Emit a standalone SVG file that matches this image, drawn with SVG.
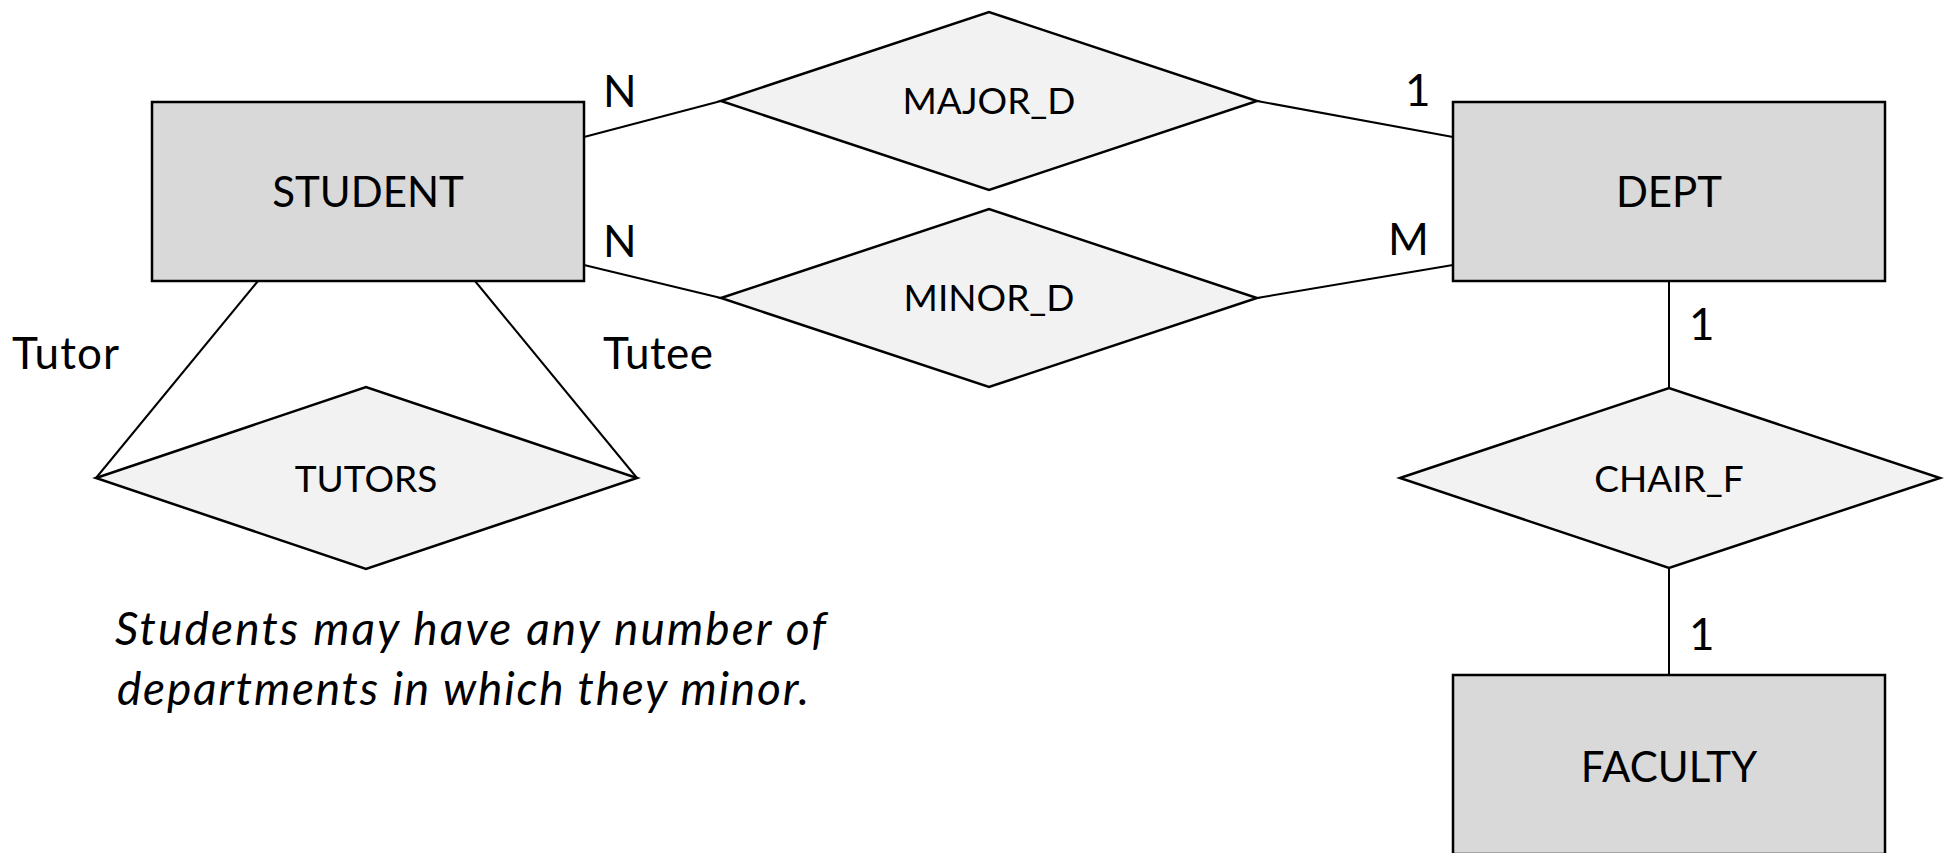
<svg xmlns="http://www.w3.org/2000/svg" width="1944" height="853" viewBox="0 0 1944 853">
<style>
.ent{fill:#D9D9D9;stroke:#000;stroke-width:2.5}
.rel{fill:#F2F2F2;stroke:#000;stroke-width:2.5}
.con{stroke:#000;stroke-width:2;fill:none}
.t{font-family:Lato,"Open Sans",sans-serif;fill:#000}
.en{font-size:42px;text-anchor:middle}
.rn{font-size:37px;text-anchor:middle}
.lb{font-size:44px}
.note{font-size:46px;font-style:italic}
</style>
<rect width="1944" height="853" fill="#fff"/>
<g id="connectors">
<line class="con" x1="584" y1="137" x2="721" y2="101"/>
<line class="con" x1="584" y1="265" x2="721" y2="298"/>
<line class="con" x1="1257" y1="101" x2="1453" y2="137"/>
<line class="con" x1="1257" y1="298" x2="1453" y2="265"/>
<line class="con" x1="1669" y1="281" x2="1669" y2="388"/>
<line class="con" x1="1669" y1="568" x2="1669" y2="675"/>
<line class="con" x1="258" y1="281" x2="96" y2="478"/>
<line class="con" x1="475" y1="281" x2="637" y2="478"/>
</g>
<g id="student">
<rect class="ent" x="152" y="102" width="432" height="179"/>
<text class="t en" x="368" y="207">STUDENT</text>
</g>
<g id="dept">
<rect class="ent" x="1453" y="102" width="432" height="179"/>
<text class="t en" x="1669" y="207">DEPT</text>
</g>
<g id="faculty">
<rect class="ent" x="1453" y="675" width="432" height="179"/>
<text class="t en" x="1669" y="782">FACULTY</text>
</g>
<g id="major_d">
<polygon class="rel" points="721,101 989,12 1257,101 989,190"/>
<text class="t rn" x="989" y="114">MAJOR_D</text>
</g>
<g id="minor_d">
<polygon class="rel" points="721,298 989,209 1257,298 989,387"/>
<text class="t rn" x="989" y="311">MINOR_D</text>
</g>
<g id="tutors">
<polygon class="rel" points="96,478 366,387 637,478 366,569"/>
<text class="t rn" x="366" y="492">TUTORS</text>
</g>
<g id="chair_f">
<polygon class="rel" points="1400,478 1669,388 1940,478 1669,568"/>
<text class="t rn" x="1669" y="492">CHAIR_F</text>
</g>
<g id="labels">
<text class="t lb" x="603" y="107">N</text>
<text class="t lb" x="603" y="257">N</text>
<text class="t lb" x="1405" y="106">1</text>
<text class="t lb" x="1388" y="255">M</text>
<text class="t lb" x="1689" y="340">1</text>
<text class="t lb" x="1689" y="650">1</text>
<text class="t lb" x="12" y="369" textLength="107">Tutor</text>
<text class="t lb" x="603" y="369" textLength="110">Tutee</text>
</g>
<g id="note">
<text class="t note" x="115" y="645" textLength="711">Students may have any number of</text>
<text class="t note" x="117" y="705" textLength="692">departments in which they minor.</text>
</g>
</svg>
